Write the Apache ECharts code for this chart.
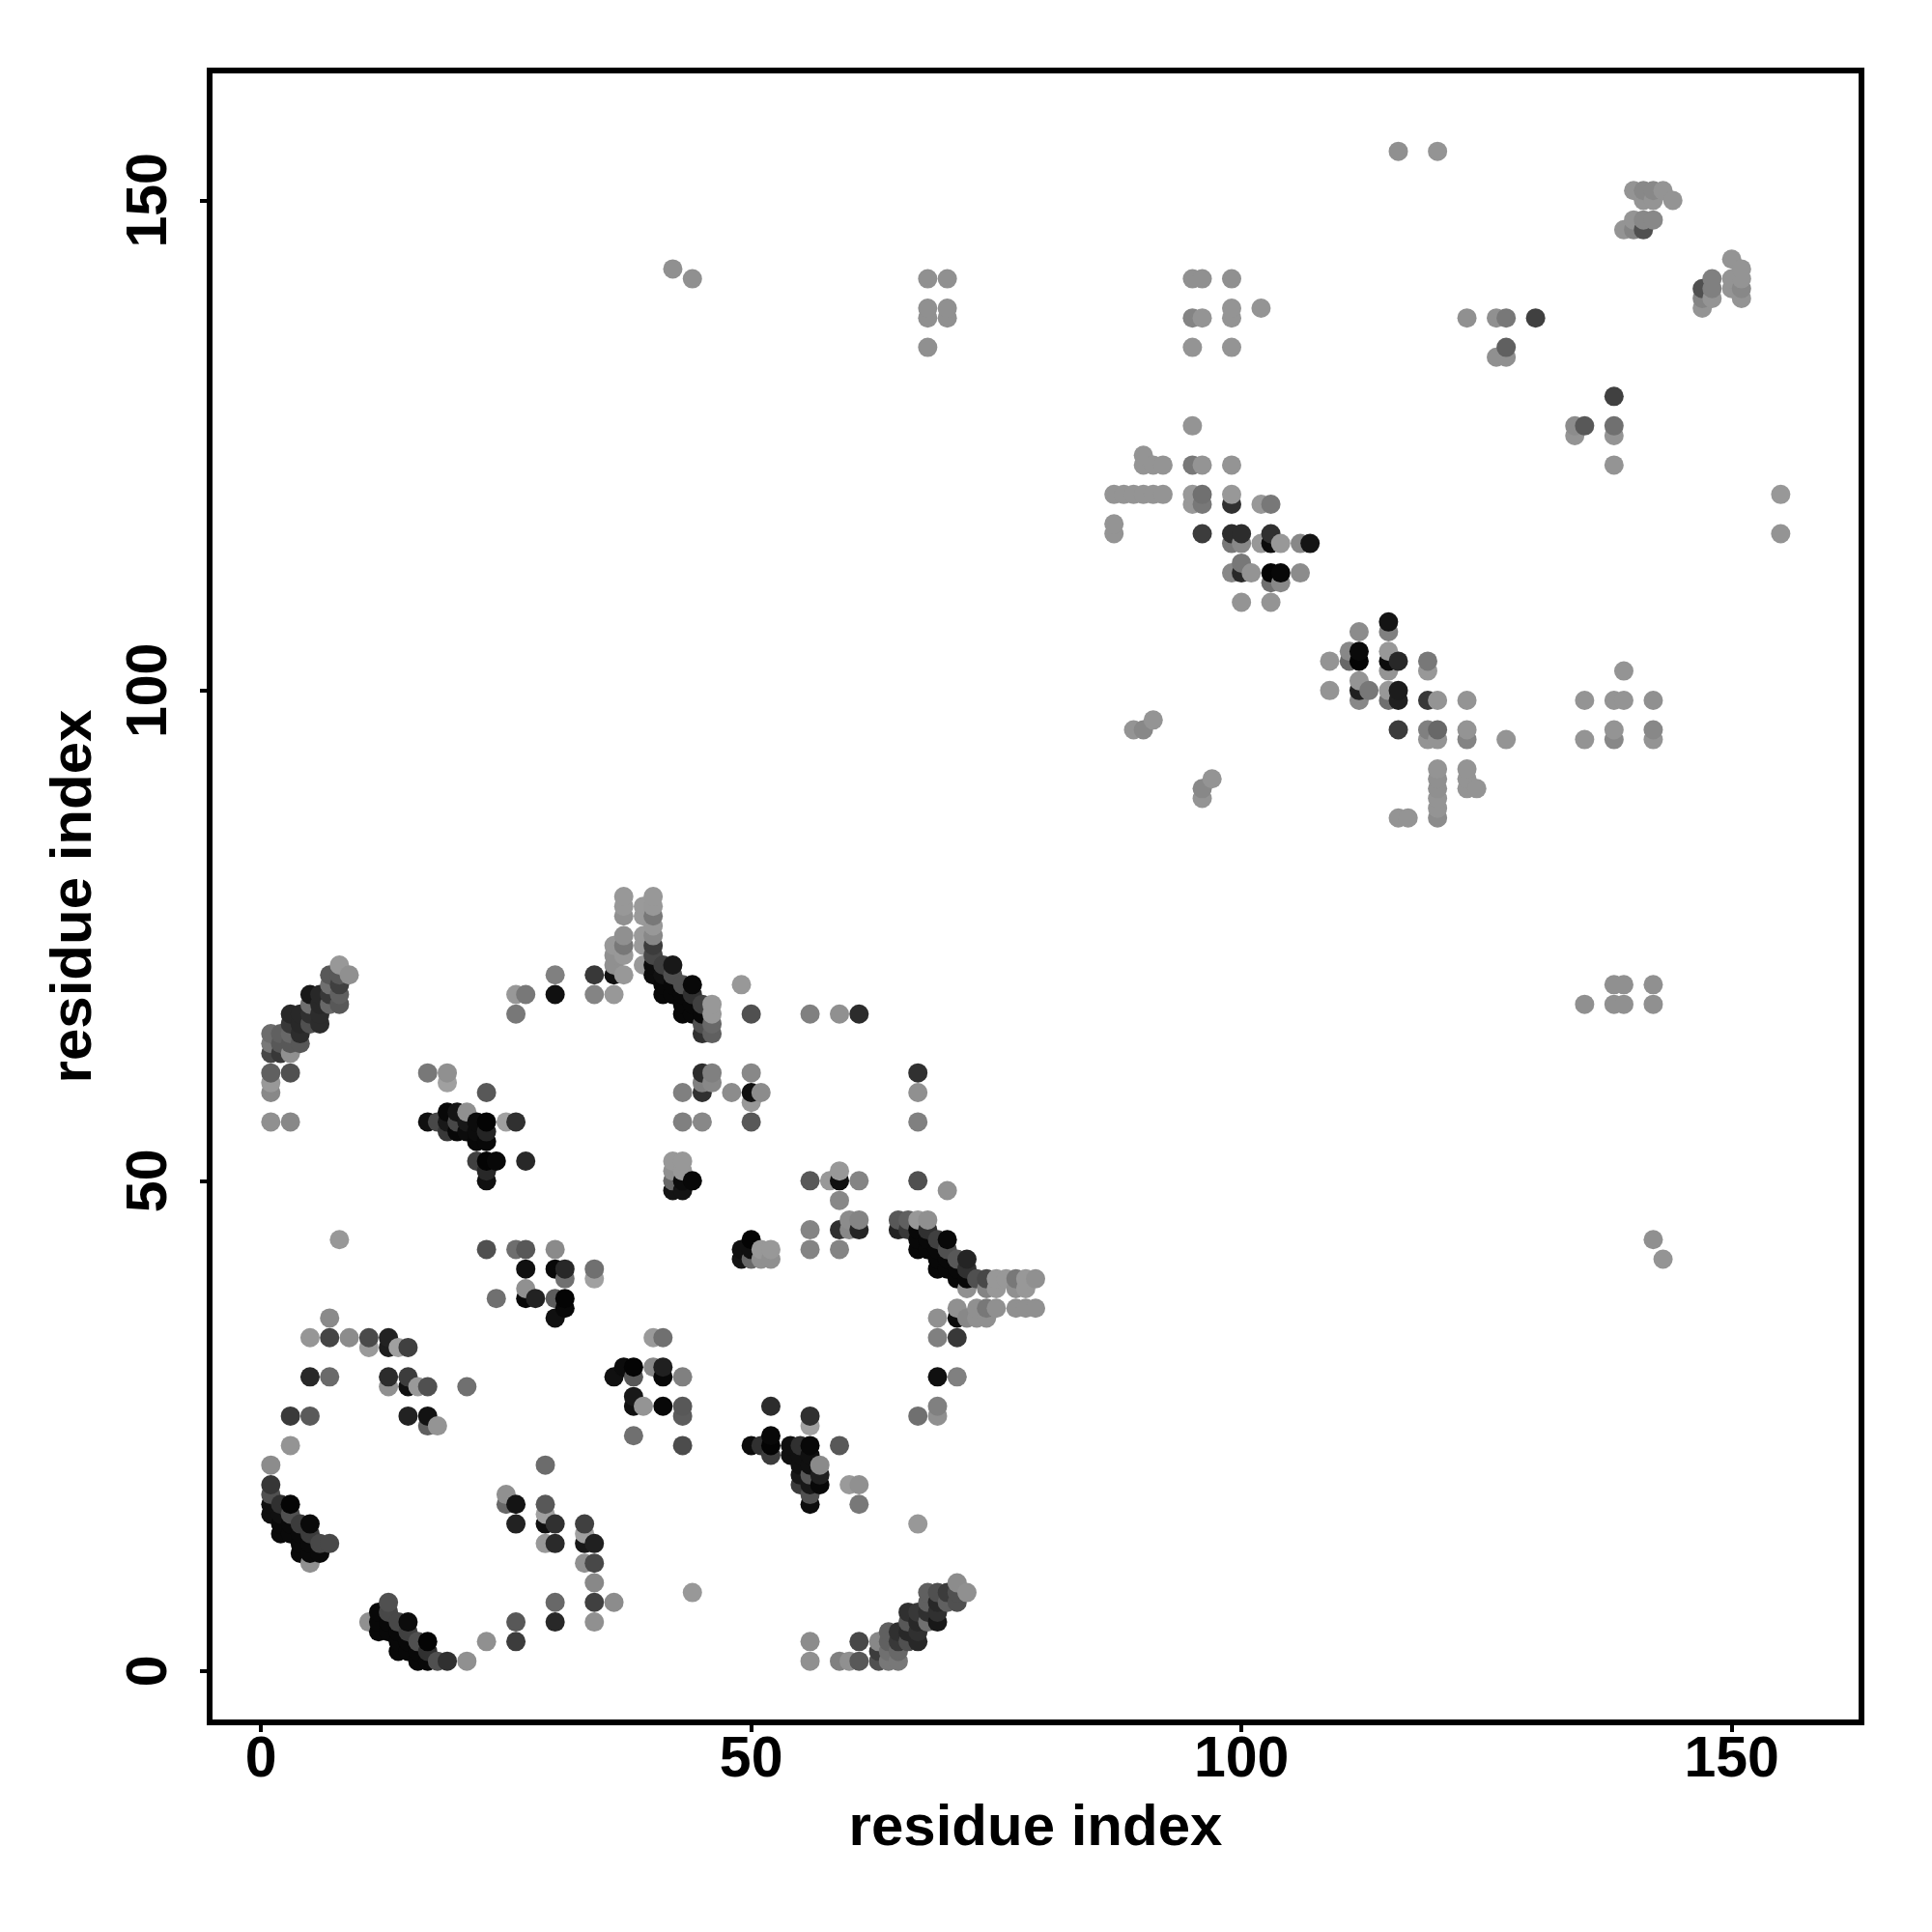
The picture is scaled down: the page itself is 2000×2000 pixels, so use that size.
<!DOCTYPE html>
<html><head><meta charset="utf-8">
<style>html,body{margin:0;padding:0;background:#fff}#c{width:2000px;height:2000px}</style>
<script src="https://cdn.jsdelivr.net/npm/echarts@6/dist/echarts.min.js"></script>
</head><body><div id="c"></div>
<script>
// [residue x, residue y, grey level]
const helixA = [[1,19,0x36],[1,18,0x50],[1,17,0x10],[1,16,0x10],[2,17,0x30],[2,16,0x10],[2,15,0x0a],[2,14,0x0a],[3,17,0x05],[3,16,0x50],[3,15,0x0a],[3,14,0x0a],[4,15,0x3c],[4,14,0x0a],[4,13,0x0a],[4,12,0x0a],[5,15,0x0a],[5,14,0x3c],[5,13,0x0a],[5,12,0x0a],[5,11,0x90],[6,13,0x48],[6,12,0x0a],[7,13,0x48]];
const helixB = [[13,7,0x50],[13,6,0x48],[12,6,0x08],[12,5,0x08],[12,4,0x08],[11,5,0x90],[13,5,0x08],[13,4,0x08],[14,5,0x48],[14,4,0x08],[14,3,0x08],[14,2,0x08],[15,5,0x0c],[15,4,0x40],[15,3,0x08],[15,2,0x08],[16,3,0x50],[16,2,0x08],[16,1,0x08],[17,3,0x04],[17,2,0x30],[17,1,0x08],[18,1,0x50],[19,1,0x30],[21,1,0x90]];
const lowerLeft = [[7,36,0x8a],[5,34,0x96],[7,34,0x45],[9,34,0x8c],[11,34,0x4a],[13,34,0x22],[11,33,0x9a],[13,33,0x1e],[14,33,0xa0],[15,33,0x40],[5,30,0x28],[7,30,0x6a],[13,30,0x2c],[15,30,0x3c],[13,29,0x90],[15,29,0x10],[16,29,0x99],[17,29,0x50],[21,29,0x70],[3,26,0x3a],[5,26,0x5a],[15,26,0x22],[17,26,0x12],[17,25,0x60],[18,25,0x94],[3,23,0x94],[1,21,0x8c],
[23,3,0x90],[26,5,0x58],[26,3,0x3c],[30,7,0x68],[30,5,0x28],[34,7,0x40],[36,7,0x8c],[34,5,0x90],[34,9,0x88],[29,21,0x6c],[25,18,0x90],[25,17,0x68],[26,17,0x14],[26,15,0x22],[29,17,0x58],[29,16,0xa0],[29,15,0x10],[30,15,0x30],[29,13,0x98],[30,13,0x2a],[33,15,0x40],[33,14,0xa0],[33,13,0x18],[34,13,0x20],[33,11,0x90],[34,11,0x48],[24,38,0x70],[27,38,0x08],[28,38,0x22],[30,38,0x5c],[31,38,0x04],[31,37,0x08],[30,36,0x10],[44,8,0x98]];
const lowerMid = [[40,34,0x9a],[41,34,0x70],[38,31,0x04],[37,31,0x0c],[36,30,0x10],[40,31,0x88],[41,31,0x20],[38,30,0x58],[41,30,0x08],[43,30,0x80],[38,28,0x18],[38,27,0x10],[39,27,0x94],[41,27,0x08],[43,27,0x58],[43,26,0x5c],[38,24,0x70],[43,23,0x4c],[52,27,0x2c],[56,26,0x30],[56,25,0xa0],[52,24,0x08],[52,23,0x04],[52,22,0x3c],[50,23,0x0c],[51,23,0x30],[54,23,0x10],[55,23,0x30],[56,23,0x08],[54,22,0x10],[55,22,0x10],[56,22,0x10],[57,21,0x8a],[55,21,0x10],[56,21,0x10],[55,20,0x18],[56,20,0x58],[57,20,0x20],[55,19,0x3c],[56,19,0x18],[57,19,0x08],[56,18,0x50],[56,17,0x0c],[59,23,0x58],[60,19,0x9a],[61,19,0x90],[61,17,0x78],[69,36,0x90],[71,36,0x0c],[69,34,0x80],[71,34,0x38],[69,30,0x10],[71,30,0x80],[69,27,0x80],[69,26,0x90],[67,26,0x70],[67,15,0x98]];
const helixC = [[56,3,0x8c],[56,1,0x90],[59,1,0x80],[60,1,0x90],[61,1,0x58],[61,3,0x48],[63,3,0x88],[63,2,0x3c],[63,1,0x50],[64,4,0x60],[64,3,0x60],[64,2,0x70],[64,1,0x78],[65,4,0x30],[65,3,0x38],[65,2,0x68],[65,1,0x78],[66,6,0x30],[66,5,0x58],[66,4,0x28],[66,3,0x50],[67,6,0x38],[67,5,0x28],[67,4,0x30],[67,3,0x28],[68,8,0x60],[68,7,0x60],[68,6,0x30],[68,5,0x70],[69,8,0x50],[69,7,0x28],[69,6,0x30],[69,5,0x18],[70,8,0x3c],[70,7,0x60],[71,9,0x8c],[71,8,0x50],[71,7,0x50],[72,8,0x90]];
const helixD = [[8,72,0x98],[9,71,0x90],[7,71,0x58],[8,71,0x58],[7,70,0x70],[8,70,0x40],[5,69,0x18],[6,69,0x28],[7,69,0x38],[8,69,0x60],[5,68,0x70],[6,68,0x28],[7,68,0x68],[8,68,0x58],[3,67,0x28],[4,67,0x28],[5,67,0x30],[6,67,0x2c],[3,66,0x38],[4,66,0x28],[5,66,0x50],[6,66,0x2c],[1,65,0x6c],[2,65,0x60],[3,65,0x68],[4,65,0x2c],[1,64,0x78],[2,64,0x58],[3,64,0x58],[4,64,0x58],[1,63,0x48],[2,63,0x38],[3,63,0x90],[1,61,0x60],[3,61,0x50],[1,60,0x98],[1,59,0x88],[1,56,0x90],[3,56,0x88]];
const midLeft = [[8,44,0x98],[23,43,0x50],[26,43,0x6e],[27,43,0x58],[30,43,0x8a],[27,41,0x10],[30,41,0x08],[31,41,0x28],[34,41,0x70],[31,40,0x70],[34,40,0xa0],[27,39,0x90],
[17,61,0x78],[19,61,0x90],[19,60,0xa0],[23,59,0x58],[17,56,0x10],[18,56,0x48],[19,57,0x08],[20,57,0x14],[21,57,0x90],[19,56,0x18],[20,56,0x48],[21,56,0x18],[22,56,0x0c],[23,56,0x04],[19,55,0x38],[20,55,0x08],[21,55,0x0c],[22,55,0x0c],[23,55,0x24],[22,54,0x08],[23,54,0x08],[25,56,0xa0],[26,56,0x30],[22,52,0x40],[23,52,0x04],[24,52,0x08],[27,52,0x28],[23,51,0x28],[23,50,0x10],[26,67,0x78],[26,69,0x98],[27,69,0x78],[30,71,0x80],[30,69,0x10],[34,71,0x38],[34,69,0x84],[36,69,0x98]];
const helixE = [[37,79,0x98],[37,78,0x98],[37,77,0x90],[37,75,0x90],[37,74,0x78],[37,73,0x98],[37,71,0x98],[36,74,0x98],[36,73,0x90],[36,72,0x90],[36,71,0x10],[39,78,0x9a],[39,77,0x9a],[39,75,0x9a],[39,74,0x9a],[39,72,0x9a],[40,79,0x98],[40,78,0x98],[40,77,0x78],[40,76,0x98],[40,75,0x88],[40,74,0x3c],[40,73,0x48],[40,72,0x0c],[40,71,0x0c],[41,72,0x40],[41,71,0x10],[41,70,0x08],[41,69,0x08],[42,72,0x18],[42,71,0x50],[42,70,0x08],[42,69,0x08],[43,70,0x50],[43,69,0x08],[43,68,0x08],[43,67,0x08],[44,70,0x08],[44,69,0x30],[44,68,0x08],[44,67,0x08],[45,68,0x40],[45,67,0x08],[45,66,0x50],[45,65,0x30],[46,68,0x98],[46,67,0x98],[46,66,0x68],[46,65,0x60],[49,70,0x98],[50,67,0x50],[56,67,0x80],[59,67,0x90],[61,67,0x2c]];
const midCentre = [[45,61,0x2c],[46,61,0x80],[46,60,0x88],[45,60,0x80],[45,59,0x30],[43,59,0x80],[48,59,0x8c],[50,61,0x88],[50,59,0x10],[51,59,0x8c],[50,58,0x98],[43,56,0x80],[45,56,0x88],[50,56,0x58],[67,61,0x30],[67,59,0x90],[67,56,0x80],[42,52,0x98],[43,52,0x98],[42,51,0x90],[43,51,0x98],[42,50,0x68],[43,50,0x0c],[44,50,0x08],[42,49,0x14],[43,49,0x14],[56,50,0x58],[58,50,0x98],[59,50,0x10],[59,51,0x98],[61,50,0x84],[59,48,0x88],[67,50,0x50],[70,49,0x90],[60,46,0x8c],[61,46,0x84],[59,45,0x30],[60,45,0x88],[61,45,0x24],[56,45,0x84],[56,43,0x84],[59,43,0x84],[50,44,0x04],[50,43,0x10],[49,43,0x10],[49,42,0x14],[50,42,0x68],[51,43,0x98],[51,42,0x90],[52,43,0x98],[52,42,0x90]];
const helixF = [[65,46,0x58],[66,46,0x60],[67,46,0x98],[68,46,0x90],[65,45,0x22],[66,45,0x38],[67,45,0x08],[68,45,0x30],[67,44,0x08],[68,44,0x08],[69,44,0x40],[70,44,0x08],[67,43,0x08],[68,43,0x08],[69,43,0x08],[70,43,0x50],[69,42,0x08],[69,41,0x08],[70,42,0x08],[70,41,0x08],[71,42,0x58],[72,42,0x24],[71,41,0x08],[72,41,0x30],[71,40,0x08],[72,40,0x08],[73,40,0x50],[74,40,0x48],[75,40,0x98],[76,40,0x98],[77,40,0x78],[78,40,0x98],[79,40,0x90],[72,39,0x90],[74,39,0x84],[75,39,0x98],[77,39,0x90],[78,39,0x98],[71,37,0x90],[73,37,0x90],[74,37,0x78],[75,37,0x90],[77,37,0x90],[78,37,0x90],[79,37,0x90],[72,36,0x88],[73,36,0x90],[74,36,0x90]];
const upperA = [[95,127,0x94],[90,124,0x94],[90,123,0x94],[91,123,0x94],[92,123,0x94],[95,123,0x78],[96,123,0x94],[99,123,0x94],[87,120,0x94],[88,120,0x94],[89,120,0x94],[90,120,0x94],[91,120,0x94],[92,120,0x94],[95,120,0x98],[96,120,0x70],[99,120,0x98],[95,119,0x98],[96,119,0x78],[99,119,0x30],[102,119,0x98],[103,119,0x78],[87,117,0x94],[87,116,0x94],[96,116,0x3c],[99,116,0x2c],[100,116,0x2c],[103,116,0x30],[99,115,0x78],[100,115,0x88],[102,115,0x98],[103,115,0x0c],[104,115,0x98],[106,115,0x88],[107,115,0x14],[100,113,0x78],[99,112,0x88],[100,112,0x28],[101,112,0x94],[103,112,0x04],[104,112,0x08],[106,112,0x8c],[103,111,0x70],[104,111,0x88],[100,109,0x94],[103,109,0x94],[91,97,0x94],[89,96,0x94],[90,96,0x88],[97,91,0x94],[96,90,0x88],[96,89,0x94]];
const upperB = [[115,107,0x14],[115,106,0x80],[112,106,0x8c],[111,104,0x88],[112,104,0x0a],[115,104,0x98],[109,103,0x94],[111,103,0x68],[112,103,0x04],[115,103,0x0c],[116,103,0x28],[119,103,0x78],[119,102,0x98],[115,102,0x94],[139,102,0x94],[112,101,0x94],[112,100,0x20],[113,100,0x78],[109,100,0x94],[115,100,0x98],[116,100,0x1c],[112,99,0x88],[115,99,0x70],[116,99,0x20],[119,99,0x38],[120,99,0x94],[123,99,0x94],[135,99,0x94],[138,99,0x94],[139,99,0x94],[142,99,0x90],[116,96,0x3c],[119,96,0x80],[120,96,0x68],[123,96,0x94],[119,95,0x94],[120,95,0x94],[123,95,0x84],[127,95,0x94],[135,95,0x94],[138,96,0x94],[138,95,0x88],[142,96,0x88],[142,95,0x94],[120,92,0x94],[120,91,0x90],[120,90,0x90],[120,89,0x94],[120,88,0x94],[120,87,0x8c],[123,92,0x94],[123,91,0x94],[123,90,0x94],[124,90,0x94],[116,87,0x94],[117,87,0x94]];
const upperC = [[140,151,0x94],[141,151,0x88],[142,151,0x88],[143,151,0x94],[141,150,0x94],[142,150,0x94],[144,150,0x94],[140,148,0x94],[141,148,0x88],[142,148,0x88],[139,147,0x94],[140,147,0x84],[141,147,0x50],[150,144,0x94],[151,143,0x94],[148,142,0x80],[150,142,0x94],[151,142,0x94],[147,141,0x50],[148,141,0x80],[150,141,0x94],[151,141,0x88],[147,140,0x84],[148,140,0x94],[151,140,0x94],[147,139,0x94],[138,130,0x40],[134,127,0x8c],[135,127,0x58],[134,126,0x94],[138,127,0x70],[138,126,0x94],[138,123,0x94],[155,120,0x98],[155,116,0x94]];
const upperD = [[116,155,0x90],[120,155,0x94],[95,142,0x90],[96,142,0x90],[99,142,0x90],[99,139,0x94],[102,139,0x94],[95,138,0x84],[96,138,0x94],[99,138,0x94],[95,135,0x94],[99,135,0x94],[123,138,0x90],[126,138,0x90],[127,138,0x78],[130,138,0x40],[127,135,0x60],[126,134,0x90],[127,134,0x90],[42,143,0x90],[44,142,0x90],[68,142,0x90],[70,142,0x90],[68,139,0x90],[70,139,0x90],[68,138,0x90],[70,138,0x90],[68,135,0x90],[138,70,0x90],[139,70,0x90],[142,70,0x90],[135,68,0x90],[138,68,0x90],[139,68,0x90],[142,68,0x90],[142,44,0x90],[143,42,0x94]];
const tickValues = [0, 50, 100, 150];
const axisTitle = 'residue index';

const contacts = [].concat(helixA, helixB, lowerLeft, lowerMid, helixC, helixD, midLeft, helixE, midCentre, helixF, upperA, upperB, upperC, upperD)
  .sort((a, b) => a[0] - b[0] || a[1] - b[1]);

const font = '"Liberation Sans", Arial, sans-serif';
function axis(extra) {
  return Object.assign({
    type: 'value', min: -5.24, max: 163.24, name: axisTitle, nameLocation: 'middle',
    nameTextStyle: { fontFamily: font, fontWeight: 'bold', fontSize: 60, color: '#000' },
    splitLine: { show: false }, axisLine: { show: false, onZero: false },
    axisTick: { show: true, length: 10, customValues: tickValues, lineStyle: { color: '#000', width: 4 } }
  }, extra);
}
const labelBase = { show: true, customValues: tickValues, fontFamily: font, fontWeight: 'bold', fontSize: 59, color: '#000', hideOverlap: false };
const chart = echarts.init(document.getElementById('c'), null, { renderer: 'canvas' });
chart.setOption({
  animation: false, backgroundColor: '#fff',
  grid: { left: 217, right: 73, top: 73, bottom: 217, show: true, borderColor: '#000', borderWidth: 6, backgroundColor: 'transparent' },
  xAxis: axis({ nameGap: 80, axisLabel: Object.assign({}, labelBase, { margin: 10 }) }),
  yAxis: axis({ nameGap: 110, axisLabel: Object.assign({}, labelBase, { rotate: 90, margin: 32 }) }),
  series: [{
    type: 'scatter', silent: true, symbol: 'circle', symbolSize: 20, large: false, progressive: 0,
    itemStyle: { opacity: 1 },
    data: contacts.map(p => ({ value: [p[0], p[1]], itemStyle: { color: `rgb(${p[2]},${p[2]},${p[2]})`, opacity: 1 } }))
  }]
});
</script></body></html>
